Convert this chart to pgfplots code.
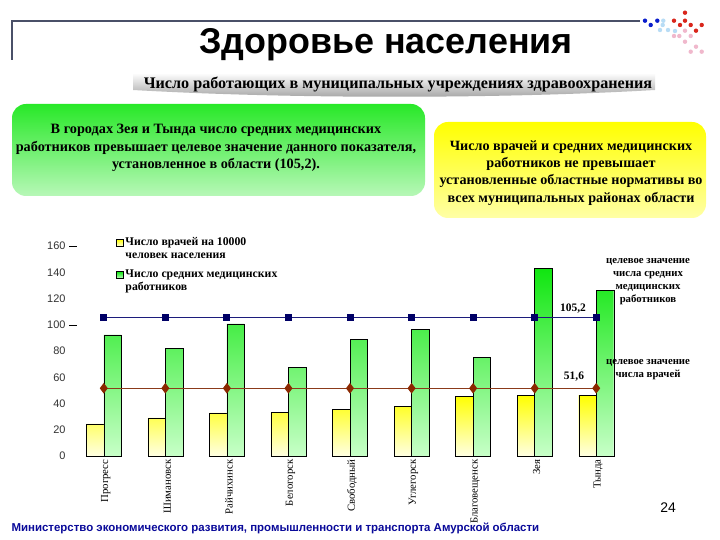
\documentclass[border=0pt]{standalone}
\usepackage{fontspec}
\setmainfont{Liberation Serif}
\newfontfamily\arial{Liberation Sans}
\usepackage{pgfplots}
\pgfplotsset{compat=1.18}

\definecolor{framegray}{HTML}{4A5068}
\definecolor{ytop}{HTML}{FFFF00}
\definecolor{ybot}{HTML}{FFFFE2}
\definecolor{gtop}{HTML}{10E610}
\definecolor{gbot}{HTML}{C8FFC8}
\definecolor{navyline}{HTML}{1C1C7C}
\definecolor{navymark}{HTML}{000066}
\definecolor{brownline}{HTML}{8B3A1A}
\definecolor{brownmark}{HTML}{8B2800}
\definecolor{botblue}{HTML}{0A0A9A}
\definecolor{dblue}{HTML}{0A1ECC}
\definecolor{lblue}{HTML}{B8DCF5}
\definecolor{dred}{HTML}{D9261C}
\definecolor{lpink}{HTML}{F0B8CC}

\begin{document}
\begin{tikzpicture}[x=1bp,y=1bp]
\path[use as bounding box, fill=white] (0,0) rectangle (720,540);

% frame line and title
\draw[framegray, line width=1.5bp] (12,480) -- (12,519) -- (640,519);
\node[font=\arial\bfseries\fontsize{36}{40}\selectfont] at (386,495) {Здоровье населения};

% decorative dots
\foreach \x/\y in {645/20.7,650.7/25,657.3/20.7}
  \fill[dblue] (\x,540-\y) circle (2.2);
\foreach \x/\y in {663.3/20.7,662.7/25,660/30,668/30,675/31}
  \fill[lblue] (\x,540-\y) circle (2.2);
\foreach \x/\y in {685/12.7,674/20.7,685/20.7,680/25,690.7/25,701.7/25,696/30.7}
  \fill[dred] (\x,540-\y) circle (2.2);
\foreach \x/\y in {685/30.7,674/36,679.3/36,690.7/36,685/41.7,696/46.7,690.7/51.7,701.7/51.7}
  \fill[lpink] (\x,540-\y) circle (2.2);

% subtitle banner
\shade[top color=white, bottom color=gray!75] (133,467) -- (655,467) -- (655,450)
  .. controls (500,441) and (290,441) .. (133,450) -- cycle;
\node[font=\bfseries\fontsize{16.2}{18}\selectfont] at (398,456)
  {Число работающих в муниципальных учреждениях здравоохранения};

% green note
\shade[rounded corners=14bp, top color=gtop!90!white, bottom color=gtop!30!white] (12,344) rectangle (425,436);
\node[align=center, font=\bfseries\fontsize{14.3}{17.5}\selectfont] at (216,392)
  {В городах Зея и Тында число средних медицинских\\
   работников превышает целевое значение данного показателя,\\
   установленное в области (105,2).};

% yellow note
\shade[rounded corners=14bp, top color=ytop, bottom color=ytop!35!white] (434,322) rectangle (706,418);
\node[align=center, font=\bfseries\fontsize{14.2}{17.3}\selectfont] at (571,367)
  {Число врачей и средних медицинских\\
   работников не превышает\\
   установленные областные нормативы во\\
   всех муниципальных районах области};

\begin{axis}[
  at={(73bp,84bp)}, anchor=south west,
  scale only axis, width=554bp, height=210bp,
  xmin=-0.5, xmax=8.5, ymin=0, ymax=160,
  axis line style={draw=none},
  tick style={draw=none},
  ytick pos=left, xtick pos=bottom,
  ytick={0,20,...,160},
  xtick={0,...,8},
  xticklabels={Прогресс,Шимановск,Райчихинск,Белогорск,Свободный,Углегорск,Благовещенск,Зея,Тында},
  xticklabel style={rotate=90, anchor=east, font=\fontsize{10.8}{12}\selectfont, yshift=-2bp},
  yticklabel style={font=\arial\fontsize{11}{13}\selectfont, text=black!80, xshift=-4bp},
  /pgf/number format/assume math mode=true,
  extra y ticks={100,160}, extra y tick labels={},
  extra y tick style={tick style={draw=black}, major tick length=8bp, tick align=center},
  clip=false,
  legend style={at={(0.072,1.06)}, anchor=north west, draw=none, fill=none,
    font=\bfseries\fontsize{11.8}{13}\selectfont, cells={align=left}, row sep=6bp},
  legend cell align=left,
]
\addplot[ybar, bar width=17.5bp, bar shift=-8.75bp, draw=black, top color=ytop, bottom color=ybot,
  legend image code/.code={\draw[fill=ytop!60!white, draw=black] (0bp,2.5bp) rectangle (7bp,9.5bp);}]
  coordinates {(0,24.4) (1,29) (2,32.8) (3,33.4) (4,35.6) (5,38) (6,45.3) (7,46.3) (8,46.3)};
\addlegendentry{Число врачей на 10000\\человек населения}
\addplot[ybar, bar width=17.5bp, bar shift=8.75bp, draw=black, top color=gtop, bottom color=gbot,
  legend image code/.code={\draw[fill=gtop!60!white, draw=black] (0bp,2.5bp) rectangle (7bp,9.5bp);}]
  coordinates {(0,92.2) (1,81.8) (2,100.6) (3,67.8) (4,89) (5,96.7) (6,75.3) (7,143) (8,126.3)};
\addlegendentry{Число средних медицинских\\работников}
\addplot[forget plot, sharp plot, navyline, line width=1bp, mark=square*,
  mark size=3bp, mark options={fill=navymark, draw=navymark}]
  coordinates {(0,105.2) (1,105.2) (2,105.2) (3,105.2) (4,105.2) (5,105.2) (6,105.2) (7,105.2) (8,105.2)};
\addplot[forget plot, sharp plot, brownline, line width=1bp, mark=diamond*,
  mark size=4.5bp, mark options={fill=brownmark, draw=brownmark}]
  coordinates {(0,51.6) (1,51.6) (2,51.6) (3,51.6) (4,51.6) (5,51.6) (6,51.6) (7,51.6) (8,51.6)};
\end{axis}

% target value notes
\node[font=\bfseries\fontsize{11.5}{13}\selectfont] at (573,231) {105,2};
\node[font=\bfseries\fontsize{11.5}{13}\selectfont] at (574,163) {51,6};
\node[align=center, font=\bfseries\fontsize{10.8}{13.3}\selectfont] at (648,258.5)
  {целевое значение\\числа средних\\медицинских\\работников};
\node[align=center, font=\bfseries\fontsize{10.8}{13.3}\selectfont] at (648,170.5)
  {целевое значение\\числа врачей};

% footer
\node[font=\arial\fontsize{14}{16}\selectfont] at (668,32) {24};
\node[anchor=west, font=\arial\bfseries\fontsize{11.5}{14}\selectfont, text=botblue] at (8,12)
  {Министерство экономического развития, промышленности и транспорта Амурской области};
\end{tikzpicture}
\end{document}
